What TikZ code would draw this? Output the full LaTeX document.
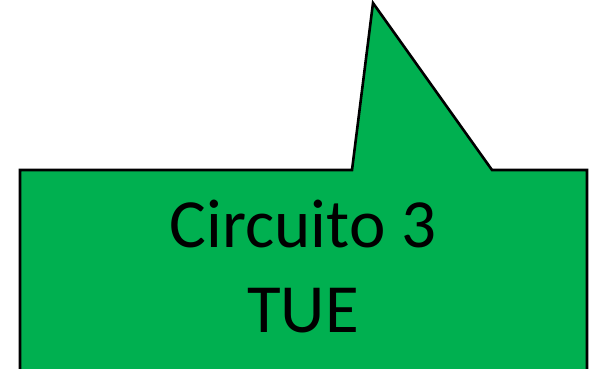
\documentclass[tikz,border=0pt]{standalone}
\usepackage{fontspec}
\setmainfont{Carlito}
\definecolor{callgreen}{HTML}{00B050}
\begin{document}
\begin{tikzpicture}[x=1pt,y=1pt,
  callout/.style={fill=callgreen,draw=black,line width=2.6pt,line join=miter},
  bigtext/.style={font=\fontsize{69}{83}\selectfont,text=black,inner sep=0pt,anchor=base}]
\useasboundingbox (0,0) rectangle (595,368);
\clip (0,0) rectangle (595,368);
\draw[callout] (20,198) -- (352,198) -- (373,365) -- (492,198) -- (587,198) -- (587,-20) -- (20,-20) -- cycle;
\node[bigtext] (l1) at (303,121) {Circuito 3};
\node[bigtext] (l2) at (303,36) {TUE};
\end{tikzpicture}
\end{document}
